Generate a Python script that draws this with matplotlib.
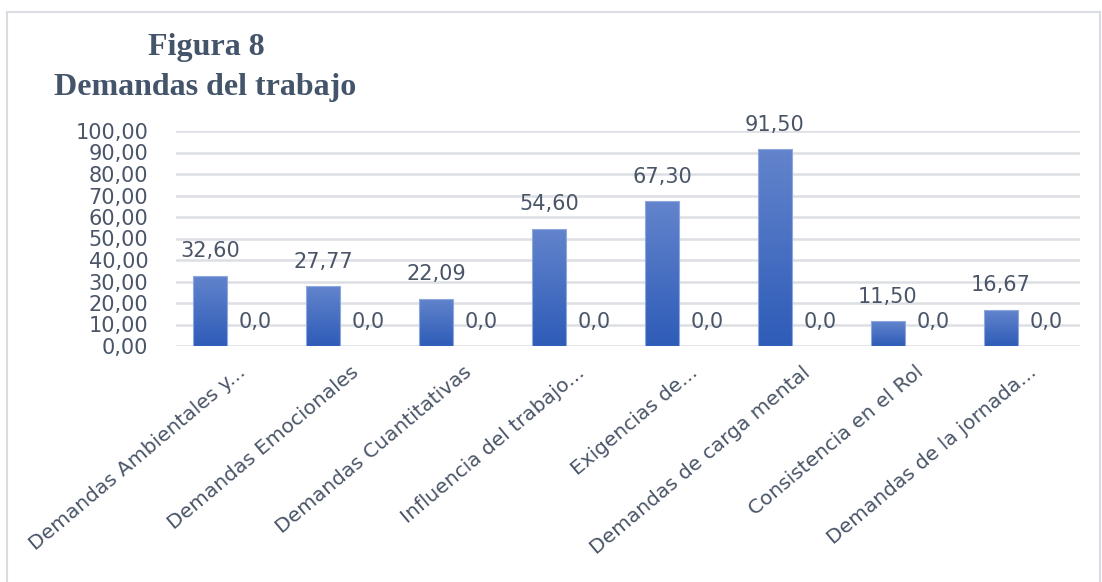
import numpy as np
import matplotlib
matplotlib.use("Agg")
import matplotlib.pyplot as plt
from matplotlib.patches import Rectangle
from matplotlib.ticker import FuncFormatter

# data
categorias = ["Demandas Ambientales y...", "Demandas Emocionales",
              "Demandas Cuantitativas", "Influencia del trabajo...",
              "Exigencias de...", "Demandas de carga mental",
              "Consistencia en el Rol", "Demandas de la jornada..."]
serie1 = [32.60, 27.77, 22.09, 54.60, 67.30, 91.50, 11.50, 16.67]
serie2 = [0.0, 0.0, 0.0, 0.0, 0.0, 0.0, 0.0, 0.0]
yticks = [0, 10, 20, 30, 40, 50, 60, 70, 80, 90, 100]

txt_col = "#4a5568"
title_col = "#44546a"

fig = plt.figure(figsize=(11.02, 5.82), dpi=100)
fig.patches.append(Rectangle((7/1102, -0.1), 1093/1102, 1.1 - 12/582,
                             transform=fig.transFigure, fill=False,
                             edgecolor="#d9dde3", linewidth=1.5))

ax = fig.add_axes([176/1102, 1 - 346/582, 904/1102, 215/582])
x = np.arange(len(categorias))
w = 0.3
off = 0.2

# gradient used to fill the bars
grad = np.linspace(0, 1, 256).reshape(-1, 1)
cmap = matplotlib.colors.LinearSegmentedColormap.from_list("g", ["#2e5cb8", "#6384cc"])

for xi, v in zip(x - off, serie1):
    r = Rectangle((xi - w/2, 0), w, v, facecolor="none", edgecolor="#8fa8e0", linewidth=0.8, zorder=3)
    ax.add_patch(r)
    im = ax.imshow(grad, extent=[xi - w/2, xi + w/2, 0, v], origin="lower",
                   cmap=cmap, aspect="auto", zorder=2)
    im.set_clip_path(r)
    ax.annotate(f"{v:.2f}".replace(".", ","), (xi, v), xytext=(0, 13.5),
                textcoords="offset points", ha="center", va="baseline",
                fontsize=15, color=txt_col, family="DejaVu Sans")

ax.bar(x + off, serie2, w, color="#2e5cb8", zorder=2)
for xi, v in zip(x + off, serie2):
    ax.annotate(f"{v:.1f}".replace(".", ","), (xi, v), xytext=(0, 13),
                textcoords="offset points", ha="center", va="baseline",
                fontsize=15, color=txt_col, family="DejaVu Sans")

ax.set_xlim(-0.5, len(categorias) - 0.5)
ax.set_ylim(0, 100)
ax.set_yticks(yticks)
ax.yaxis.set_major_formatter(FuncFormatter(lambda v, p: f"{v:.2f}".replace(".", ",")))
ax.grid(axis="y", color="#dcdfe4", linewidth=1.8, zorder=0)
ax.set_axisbelow(True)
for s in ax.spines.values():
    s.set_visible(False)
ax.tick_params(axis="y", length=0, pad=20, labelsize=15, labelcolor=txt_col)
ax.tick_params(axis="x", length=0, pad=12)
ax.set_xticks(x + 0.04)
ax.set_xticklabels(categorias, rotation=40, ha="right", rotation_mode="anchor",
                   fontsize=14.5, color=txt_col, family="DejaVu Sans")

fig.text(206/1102, 1 - 48/582, "Figura 8", ha="center", va="center",
         fontsize=23, fontweight="bold", family="Liberation Serif", color=title_col)
fig.text(205/1102, 1 - 87/582, "Demandas del trabajo", ha="center", va="center",
         fontsize=23, fontweight="bold", family="Liberation Serif", color=title_col)

fig.savefig("out.png", dpi=100)
